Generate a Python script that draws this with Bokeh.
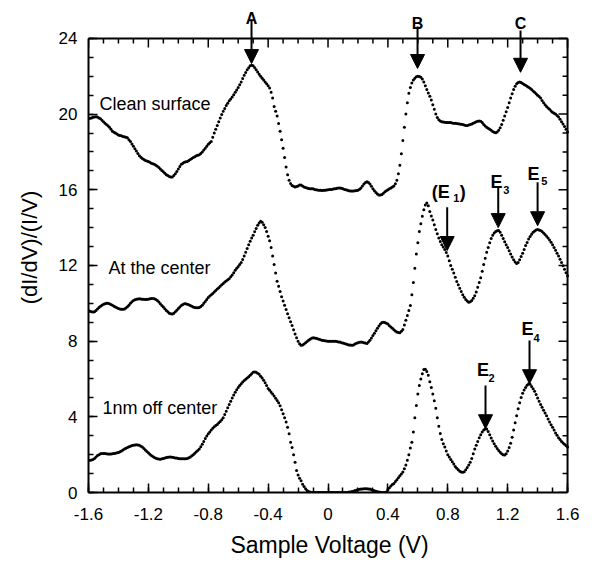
import numpy as np
from bokeh.plotting import figure
from bokeh.models import (Range1d, FixedTicker, CustomJSTickFormatter,
                          Label, Arrow, NormalHead)
from bokeh.embed import file_html
from bokeh.resources import INLINE

# ---------------- data ----------------
voltage = np.round(np.arange(-1.6, 1.6001, 0.01), 2)  # sample points, 0.01 V apart

clean_surface = [
    19.75, 19.78, 19.80, 19.83, 19.85, 19.86, 19.85, 19.80, 19.75, 19.68,
    19.60, 19.52, 19.45, 19.38, 19.30, 19.20, 19.10, 19.04, 19.00, 18.95,
    18.90, 18.87, 18.85, 18.82, 18.80, 18.78, 18.75, 18.65, 18.55, 18.42,
    18.30, 18.17, 18.05, 17.92, 17.80, 17.72, 17.65, 17.60, 17.55, 17.52,
    17.50, 17.45, 17.40, 17.37, 17.35, 17.30, 17.25, 17.18, 17.10, 17.02,
    16.95, 16.87, 16.80, 16.75, 16.70, 16.68, 16.68, 16.75, 16.85, 16.97,
    17.10, 17.23, 17.35, 17.40, 17.45, 17.48, 17.50, 17.55, 17.60, 17.65,
    17.70, 17.75, 17.80, 17.82, 17.85, 17.92, 18.00, 18.10, 18.20, 18.30,
    18.40, 18.48, 18.55, 18.78, 19.00, 19.20, 19.40, 19.60, 19.80, 19.98,
    20.15, 20.30, 20.45, 20.58, 20.70, 20.80, 20.90, 21.02, 21.15, 21.28,
    21.40, 21.55, 21.70, 21.88, 22.05, 22.20, 22.35, 22.45, 22.55, 22.58,
    22.55, 22.45, 22.35, 22.22, 22.10, 22.00, 21.90, 21.80, 21.70, 21.60,
    21.50, 21.38, 21.15, 20.85, 20.40, 20.15, 19.90, 19.50, 19.10, 18.65,
    18.20, 17.70, 17.20, 16.80, 16.50, 16.33, 16.22, 16.18, 16.15, 16.17,
    16.20, 16.25, 16.25, 16.20, 16.15, 16.12, 16.10, 16.07, 16.05, 16.05,
    16.05, 16.02, 16.00, 15.99, 15.98, 15.97, 15.96, 15.97, 15.98, 15.99,
    16.00, 16.01, 16.02, 16.03, 16.05, 16.06, 16.08, 16.09, 16.10, 16.08,
    16.05, 16.02, 16.00, 15.97, 15.95, 15.94, 15.93, 15.94, 15.95, 15.96,
    15.98, 16.03, 16.10, 16.20, 16.30, 16.38, 16.42, 16.38, 16.30, 16.18,
    16.05, 15.95, 15.85, 15.78, 15.72, 15.72, 15.75, 15.82, 15.90, 15.95,
    16.00, 16.05, 16.10, 16.15, 16.20, 16.32, 16.50, 16.85, 17.30, 17.90,
    18.60, 19.30, 20.00, 20.60, 21.10, 21.40, 21.65, 21.80, 21.90, 21.97,
    22.00, 21.99, 21.95, 21.85, 21.70, 21.50, 21.30, 21.12, 20.95, 20.75,
    20.50, 20.25, 20.00, 19.82, 19.70, 19.64, 19.60, 19.58, 19.57, 19.56,
    19.55, 19.55, 19.55, 19.53, 19.52, 19.51, 19.50, 19.49, 19.48, 19.46,
    19.45, 19.42, 19.40, 19.40, 19.42, 19.45, 19.48, 19.52, 19.55, 19.59,
    19.62, 19.64, 19.62, 19.55, 19.45, 19.37, 19.30, 19.25, 19.20, 19.14,
    19.08, 19.04, 19.02, 19.05, 19.15, 19.28, 19.45, 19.67, 19.90, 20.12,
    20.35, 20.60, 20.85, 21.08, 21.30, 21.47, 21.60, 21.67, 21.70, 21.67,
    21.62, 21.57, 21.52, 21.47, 21.42, 21.36, 21.30, 21.22, 21.15, 21.08,
    21.00, 20.93, 20.85, 20.72, 20.60, 20.50, 20.40, 20.32, 20.25, 20.17,
    20.10, 20.05, 20.00, 19.93, 19.85, 19.73, 19.60, 19.48, 19.35, 19.20,
    19.05,
]

at_center = [
    9.62, 9.58, 9.55, 9.54, 9.55, 9.62, 9.70, 9.78, 9.85, 9.90,
    9.95, 9.98, 10.00, 10.00, 9.98, 9.94, 9.90, 9.85, 9.80, 9.76,
    9.72, 9.70, 9.68, 9.68, 9.70, 9.75, 9.82, 9.90, 10.00, 10.08,
    10.15, 10.19, 10.22, 10.23, 10.24, 10.23, 10.22, 10.21, 10.20, 10.21,
    10.22, 10.24, 10.25, 10.25, 10.24, 10.20, 10.15, 10.07, 9.98, 9.89,
    9.80, 9.71, 9.62, 9.55, 9.48, 9.45, 9.44, 9.48, 9.55, 9.63,
    9.72, 9.80, 9.88, 9.93, 9.97, 9.97, 9.95, 9.92, 9.88, 9.84,
    9.80, 9.78, 9.76, 9.76, 9.78, 9.83, 9.90, 10.00, 10.10, 10.20,
    10.30, 10.38, 10.45, 10.52, 10.60, 10.68, 10.75, 10.82, 10.90, 10.98,
    11.05, 11.12, 11.18, 11.24, 11.30, 11.40, 11.50, 11.62, 11.75, 11.85,
    11.95, 12.05, 12.15, 12.32, 12.50, 12.70, 12.90, 13.10, 13.28, 13.45,
    13.60, 13.78, 13.95, 14.12, 14.25, 14.34, 14.28, 14.15, 14.00, 13.80,
    13.55, 13.30, 12.95, 12.50, 12.05, 11.60, 11.17, 10.90, 10.63, 10.35,
    10.12, 9.90, 9.67, 9.45, 9.23, 9.03, 8.83, 8.60, 8.38, 8.18,
    8.00, 7.86, 7.78, 7.80, 7.85, 7.92, 7.98, 8.05, 8.10, 8.15,
    8.18, 8.17, 8.15, 8.12, 8.10, 8.07, 8.05, 8.03, 8.02, 8.01,
    8.00, 8.00, 8.00, 8.00, 8.00, 7.99, 7.98, 7.96, 7.95, 7.92,
    7.90, 7.87, 7.85, 7.82, 7.80, 7.79, 7.78, 7.80, 7.85, 7.89,
    7.92, 7.94, 7.95, 7.94, 7.92, 7.90, 7.88, 7.95, 8.05, 8.17,
    8.30, 8.42, 8.55, 8.68, 8.80, 8.90, 8.98, 9.00, 8.98, 8.95,
    8.90, 8.82, 8.75, 8.68, 8.60, 8.53, 8.48, 8.46, 8.45, 8.52,
    8.62, 8.85, 9.10, 9.35, 9.62, 9.88, 10.45, 11.10, 11.85, 12.60,
    13.20, 13.80, 14.20, 14.60, 14.95, 15.20, 15.30, 15.15, 14.85, 14.62,
    14.40, 14.15, 13.90, 13.68, 13.45, 13.27, 13.10, 12.97, 12.85, 12.68,
    12.50, 12.25, 12.00, 11.80, 11.60, 11.38, 11.15, 10.98, 10.80, 10.62,
    10.45, 10.32, 10.20, 10.12, 10.06, 10.08, 10.15, 10.27, 10.40, 10.60,
    10.85, 11.10, 11.35, 11.70, 12.05, 12.38, 12.70, 12.95, 13.20, 13.42,
    13.60, 13.72, 13.80, 13.84, 13.85, 13.75, 13.60, 13.42, 13.25, 13.10,
    12.95, 12.78, 12.60, 12.45, 12.30, 12.18, 12.10, 12.15, 12.30, 12.47,
    12.65, 12.85, 13.05, 13.22, 13.40, 13.53, 13.65, 13.75, 13.82, 13.87,
    13.90, 13.88, 13.85, 13.79, 13.72, 13.64, 13.55, 13.45, 13.35, 13.23,
    13.10, 12.95, 12.80, 12.65, 12.50, 12.33, 12.15, 11.98, 11.80, 11.62,
    11.45,
]

off_center = [
    1.70, 1.70, 1.72, 1.75, 1.80, 1.88, 1.95, 2.00, 2.05, 2.06,
    2.06, 2.06, 2.05, 2.04, 2.04, 2.04, 2.05, 2.06, 2.08, 2.10,
    2.12, 2.16, 2.20, 2.25, 2.30, 2.34, 2.38, 2.42, 2.45, 2.48,
    2.50, 2.51, 2.52, 2.51, 2.50, 2.45, 2.40, 2.33, 2.25, 2.17,
    2.10, 2.02, 1.95, 1.90, 1.85, 1.81, 1.78, 1.77, 1.76, 1.78,
    1.80, 1.83, 1.85, 1.86, 1.87, 1.87, 1.86, 1.85, 1.83, 1.82,
    1.80, 1.79, 1.79, 1.78, 1.78, 1.79, 1.80, 1.84, 1.88, 1.94,
    2.00, 2.08, 2.15, 2.22, 2.30, 2.42, 2.55, 2.70, 2.85, 2.98,
    3.10, 3.20, 3.30, 3.39, 3.47, 3.54, 3.60, 3.68, 3.75, 3.85,
    3.95, 4.12, 4.30, 4.48, 4.65, 4.82, 5.00, 5.15, 5.30, 5.43,
    5.55, 5.65, 5.75, 5.84, 5.92, 5.99, 6.05, 6.12, 6.20, 6.28,
    6.35, 6.37, 6.35, 6.30, 6.25, 6.15, 6.05, 5.93, 5.80, 5.65,
    5.50, 5.40, 5.30, 5.20, 5.10, 4.98, 4.86, 4.75, 4.58, 4.38,
    4.16, 3.95, 3.72, 3.45, 3.10, 2.66, 2.38, 2.00, 1.60, 1.16,
    0.92, 0.75, 0.62, 0.44, 0.32, 0.20, 0.10, 0.05, 0.02, 0.00,
    0.00, 0.00, 0.00, 0.00, 0.00, 0.00, 0.00, 0.00, 0.00, 0.00,
    0.00, 0.00, 0.00, 0.00, 0.00, 0.00, 0.00, 0.00, 0.00, 0.00,
    0.00, 0.00, 0.00, 0.00, 0.02, 0.03, 0.05, 0.07, 0.10, 0.12,
    0.15, 0.17, 0.18, 0.19, 0.20, 0.20, 0.20, 0.19, 0.18, 0.15,
    0.12, 0.09, 0.06, 0.04, 0.02, 0.01, 0.00, 0.00, 0.00, 0.02,
    0.15, 0.25, 0.35, 0.42, 0.48, 0.58, 0.68, 0.78, 0.88, 0.98,
    1.08, 1.25, 1.45, 1.70, 2.00, 2.35, 2.65, 3.20, 3.95, 4.60,
    5.20, 5.65, 6.00, 6.28, 6.50, 6.52, 6.40, 6.20, 5.85, 5.55,
    5.20, 4.85, 4.45, 3.95, 3.50, 3.12, 2.80, 2.58, 2.40, 2.20,
    2.00, 1.87, 1.75, 1.62, 1.50, 1.38, 1.28, 1.20, 1.12, 1.08,
    1.07, 1.10, 1.20, 1.32, 1.45, 1.60, 1.80, 2.05, 2.30, 2.50,
    2.70, 2.90, 3.05, 3.20, 3.30, 3.36, 3.35, 3.22, 3.05, 2.88,
    2.72, 2.58, 2.45, 2.33, 2.22, 2.13, 2.05, 2.00, 1.98, 2.05,
    2.20, 2.38, 2.60, 2.92, 3.30, 3.68, 4.05, 4.42, 4.75, 5.02,
    5.25, 5.42, 5.55, 5.67, 5.75, 5.72, 5.60, 5.48, 5.35, 5.18,
    5.00, 4.82, 4.65, 4.50, 4.35, 4.20, 4.05, 3.88, 3.72, 3.58,
    3.45, 3.30, 3.15, 3.02, 2.90, 2.80, 2.70, 2.62, 2.55, 2.47,
    2.40,
]

x_tick_values = [-1.6, -1.2, -0.8, -0.4, 0.0, 0.4, 0.8, 1.2, 1.6]
y_tick_values = [0, 4, 8, 12, 16, 20, 24]

curve_names = ["Clean surface", "At the center", "1nm off center"]
name_x = [-1.527, -1.466, -1.506]
name_y = [20.56, 11.89, 4.44]

# peak markers: letter, arrow x, arrow top, arrow tip
peak_letters = ["A", "B", "C"]
peak_x = [-0.511, 0.598, 1.286]
peak_top = [24.95, 24.63, 24.42]
peak_tip = [22.67, 22.41, 22.21]
peak_label_y = [25.05, 24.79, 24.79]

e_subs = ["3", "5", "2", "4"]
e_x = [1.137, 1.400, 1.052, 1.346]
e_top = [16.17, 16.40, 5.66, 8.03]
e_tip = [14.00, 14.10, 3.37, 5.75]
e_label_x = [1.126, 1.373, 1.035, 1.333]
e_label_y = [16.40, 16.86, 6.45, 8.65]
e_sub_x = [1.171, 1.424, 1.072, 1.373]
e_sub_y = [16.00, 16.49, 6.03, 8.14]

e1_x, e1_top, e1_tip = 0.796, 15.08, 12.79

# ---------------- figure ----------------
FONT = "Liberation Sans"
X_MIN, X_MAX = x_tick_values[0], x_tick_values[-1]
Y_MIN, Y_MAX = y_tick_values[0], y_tick_values[-1]

PX_PER_V = 149.7      # horizontal scale of the frame
PX_PER_UNIT = 18.92   # vertical scale of the frame
FRAME_W = 482
FRAME_H = 490
LEFT, TOP, BOTTOM = 88, 2, 74
WIDTH = LEFT + FRAME_W + 20
HEIGHT = TOP + FRAME_H + BOTTOM

p = figure(width=WIDTH, height=HEIGHT, output_backend="svg", toolbar_location=None,
           x_range=Range1d(X_MIN, X_MIN + FRAME_W / PX_PER_V),
           y_range=Range1d(Y_MIN, Y_MIN + FRAME_H / PX_PER_UNIT),
           min_border_left=LEFT, min_border_right=20, min_border_top=TOP,
           min_border_bottom=BOTTOM)
p.grid.visible = False
p.outline_line_color = None
p.background_fill_color = "white"
p.border_fill_color = "white"

x_minor = list(np.round(np.arange(X_MIN, X_MAX + 0.001, 0.1), 2))
y_minor = list(range(Y_MIN, Y_MAX + 1))

MAJ, MIN_ = 9, 5


def style_axis(ax):
    ax.axis_line_width = 2
    ax.axis_line_color = "black"
    ax.major_tick_in = MAJ
    ax.major_tick_out = 0
    ax.minor_tick_in = MIN_
    ax.minor_tick_out = 0
    ax.major_tick_line_width = 1.5
    ax.minor_tick_line_width = 1.5
    ax.major_tick_line_color = "black"
    ax.minor_tick_line_color = "black"
    ax.major_label_text_font = FONT
    ax.major_label_text_color = "black"
    ax.axis_label_text_font = FONT
    ax.axis_label_text_font_style = "normal"
    ax.axis_label_text_color = "black"


xaxis = p.xaxis[0]
xaxis.ticker = FixedTicker(ticks=x_tick_values, minor_ticks=x_minor)
xaxis.formatter = CustomJSTickFormatter(
    code="return Math.abs(tick) < 1e-9 ? '0' : tick.toFixed(1);")
xaxis.bounds = (X_MIN, X_MAX)
style_axis(xaxis)
xaxis.major_label_text_font_size = "17px"
xaxis.major_label_standoff = 15
xaxis.axis_label = "Sample Voltage (V)"
xaxis.axis_label_text_font_size = "23px"
xaxis.axis_label_standoff = 9

yaxis = p.yaxis[0]
yaxis.ticker = FixedTicker(ticks=y_tick_values, minor_ticks=y_minor)
yaxis.bounds = (Y_MIN, Y_MAX)
style_axis(yaxis)
yaxis.major_label_text_font_size = "17px"
yaxis.major_label_standoff = 11
yaxis.axis_label = "(dI/dV)/(I/V)"
yaxis.axis_label_text_font_size = "22px"
yaxis.axis_label_standoff = 14

# top and right edges of the box, with inward ticks
p.line([X_MIN, X_MAX], [Y_MAX, Y_MAX], line_color="black", line_width=2)
p.line([X_MAX, X_MAX], [Y_MIN, Y_MAX], line_color="black", line_width=2)
top_len = [(MAJ if any(abs(t - m) < 1e-6 for m in x_tick_values) else MIN_) / PX_PER_UNIT
           for t in x_minor]
p.segment(x0=x_minor, y0=[Y_MAX] * len(x_minor), x1=x_minor,
          y1=[Y_MAX - l for l in top_len], line_color="black", line_width=1.5)
right_len = [(MAJ if t in y_tick_values else MIN_) / PX_PER_V for t in y_minor]
p.segment(x0=[X_MAX] * len(y_minor), y0=y_minor, x1=[X_MAX - l for l in right_len],
          y1=y_minor, line_color="black", line_width=1.5)

# ---------------- curves ----------------
for series in (clean_surface, at_center, off_center):
    p.scatter(voltage, series, size=3.0, marker="circle",
              fill_color="black", line_color="black", line_width=0)

for name, nx, ny in zip(curve_names, name_x, name_y):
    p.add_layout(Label(x=nx, y=ny, text=name, text_font=FONT, text_font_size="18px",
                       text_color="black", text_align="left", text_baseline="alphabetic"))


# ---------------- arrows and letters ----------------
def add_arrow(x, top, tip):
    p.add_layout(Arrow(x_start=x, y_start=top, x_end=x, y_end=tip,
                       line_color="black", line_width=2,
                       end=NormalHead(size=14, fill_color="black", line_color="black",
                                      line_width=1)))


for letter, px_, top, tip, ly in zip(peak_letters, peak_x, peak_top, peak_tip, peak_label_y):
    add_arrow(px_, top, tip)
    p.add_layout(Label(x=px_, y=ly, text=letter, text_font=FONT, text_font_size="16px",
                       text_font_style="bold", text_color="black",
                       text_align="center", text_baseline="alphabetic"))

for sub, ex, top, tip, lx, ly, sx, sy in zip(e_subs, e_x, e_top, e_tip, e_label_x,
                                              e_label_y, e_sub_x, e_sub_y):
    add_arrow(ex, top, tip)
    p.add_layout(Label(x=lx, y=ly, text="E", text_font=FONT, text_font_size="18px",
                       text_font_style="bold", text_color="black",
                       text_align="center", text_baseline="alphabetic"))
    p.add_layout(Label(x=sx, y=sy, text=sub, text_font=FONT, text_font_size="11px",
                       text_font_style="bold", text_color="black",
                       text_align="left", text_baseline="alphabetic"))

# (E1)
add_arrow(e1_x, e1_top, e1_tip)
p.add_layout(Label(x=0.8135, y=15.87, text="(E", text_font=FONT, text_font_size="18px",
                   text_font_style="bold", text_color="black",
                   text_align="right", text_baseline="alphabetic"))
p.add_layout(Label(x=0.836, y=15.55, text="1", text_font=FONT, text_font_size="11px",
                   text_font_style="bold", text_color="black",
                   text_align="left", text_baseline="alphabetic"))
p.add_layout(Label(x=0.880, y=15.87, text=")", text_font=FONT, text_font_size="18px",
                   text_font_style="bold", text_color="black",
                   text_align="left", text_baseline="alphabetic"))

open("out.html", "w").write(file_html(p, INLINE))
